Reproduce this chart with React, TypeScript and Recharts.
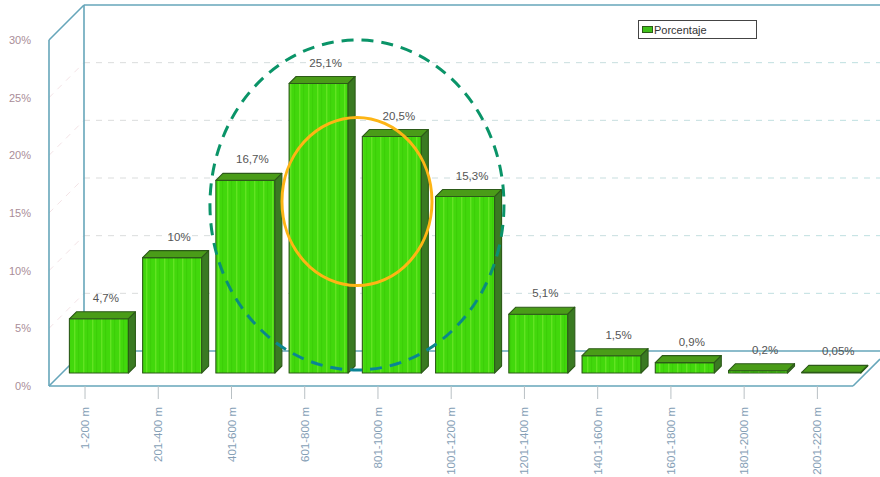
import React from "react";
import { ComposedChart, Bar, XAxis, YAxis, ReferenceLine, ReferenceDot, LabelList, Legend } from "recharts";

const categories = ["1-200 m","201-400 m","401-600 m","601-800 m","801-1000 m","1001-1200 m","1201-1400 m","1401-1600 m","1601-1800 m","1801-2000 m","2001-2200 m"];
const porcentaje = [4.7,10,16.7,25.1,20.5,15.3,5.1,1.5,0.9,0.2,0.05];
const yTicks = [0,5,10,15,20,25,30];
const gridValues = [5,10,15,20,25];
const frameValues = [0,30];
const seriesName = "Porcentaje";

const data = categories.map((c,i)=>({category:c,value:porcentaje[i]}));

const W = 880, H = 477;
const DEPTH = 7;
const FRONT_DY = 13, BACK_DY = -22;
const LEFT_FRONT = 49, LEFT_BACK = 84;
const FRAME = "#66a6ba";

const fmt = (v:number)=>`${v}`.replace(".",",");

const Bar3D = (p:any)=>{
  const {x,y,width:w,height:h} = p;
  return <g stroke="#2c5a18" strokeWidth={1.1} strokeLinejoin="round">
    <rect x={x} y={y} width={w} height={h} fill="url(#barStripes)"/>
    <polygon points={`${x},${y} ${x+DEPTH},${y-DEPTH} ${x+w+DEPTH},${y-DEPTH} ${x+w},${y}`} fill="#4a9c18"/>
    <polygon points={`${x+w},${y} ${x+w+DEPTH},${y-DEPTH} ${x+w+DEPTH},${y+h-DEPTH} ${x+w},${y+h}`} fill="#3a7a22"/>
  </g>;
};

const GridShape = (p:any)=>{
  const y = p.y1;
  return <g fill="none" strokeWidth={1} strokeDasharray="6 6">
    <line x1={LEFT_FRONT} y1={y+FRONT_DY} x2={LEFT_BACK} y2={y+BACK_DY} stroke="#f3e3e6"/>
    <line x1={LEFT_BACK} y1={y+BACK_DY} x2={W} y2={y+BACK_DY} stroke="url(#gridFade)"/>
  </g>;
};

const FrameShape = (p:any)=>{
  const y = p.y1, isFloor = p.floor;
  return <g fill="none" stroke={FRAME} strokeWidth={1.6}>
    <line x1={LEFT_FRONT} y1={y+FRONT_DY} x2={LEFT_BACK} y2={y+BACK_DY}/>
    <line x1={LEFT_BACK} y1={y+BACK_DY} x2={W} y2={y+BACK_DY}/>
    {isFloor && <>
      <line x1={LEFT_FRONT} y1={y+FRONT_DY} x2={853} y2={y+FRONT_DY}/>
      <line x1={853} y1={y+FRONT_DY} x2={W} y2={y+FRONT_DY-27}/>
    </>}
    {!isFloor && <>
      <line x1={LEFT_FRONT} y1={y+FRONT_DY} x2={LEFT_FRONT} y2={y+FRONT_DY+346}/>
      <line x1={LEFT_BACK} y1={y+BACK_DY} x2={LEFT_BACK} y2={y+BACK_DY+346}/>
    </>}
  </g>;
};

const YTick = (p:any)=>(
  <text x={31} y={p.y+FRONT_DY} dy="0.35em" textAnchor="end" fontFamily="Liberation Sans" fontSize={11} fill="#a98d98">{p.payload.value}%</text>
);

const XTick = (p:any)=>{
  const x = p.x-14;
  return <g>
    <line x1={x} y1={386} x2={x} y2={399} stroke="#b9c0c4" strokeWidth={1}/>
    <text transform={`translate(${x},407) rotate(-90)`} dy="0.35em" textAnchor="end" fontFamily="Liberation Sans" fontSize={11.5} fill="#86a0b6">{p.payload.value}</text>
  </g>;
};

const BarLabel = (p:any)=>(
  <text x={p.x+p.width/2+7} y={p.y-21} dy="0.35em" textAnchor="middle" fontFamily="Liberation Sans" fontSize={11.5} fill="#555">{fmt(p.value)}%</text>
);

const LegendBox = ()=>(
  <div style={{boxSizing:"border-box",width:119,height:19,border:"1.5px solid #444",background:"#fff",display:"flex",alignItems:"center",paddingLeft:3,fontFamily:"Liberation Sans",fontSize:11,color:"#333"}}>
    <span style={{display:"inline-block",width:11,height:7,background:"#3fc01a",border:"1px solid #2c5a18",marginRight:1,boxSizing:"border-box"}}/>
    {seriesName}
  </div>
);

// Hand-drawn rings, placed relative to the 801-1000 m band at the 15% level.
const DashedRing = (p:any)=>(
  <ellipse cx={p.cx-35} cy={p.cy+5} rx={147} ry={165} fill="none" stroke="url(#dashTeal)" strokeWidth={3} strokeDasharray="12 8"/>
);
const SolidRing = (p:any)=>(
  <ellipse cx={p.cx-35} cy={p.cy+1.5} rx={75} ry={84} fill="none" stroke="#fdb515" strokeWidth={3}/>
);

export default function App(){
  return <div style={{position:"absolute",left:0,top:0,width:W,height:H}}>
    <ComposedChart width={W} height={H} data={data} margin={{top:27,right:12,bottom:0,left:0}} barCategoryGap={0}>
      <defs>
        <pattern id="barStripes" patternUnits="userSpaceOnUse" width="9" height="10">
          <rect width="9" height="10" fill="#42d80c"/>
          <rect x="2" width="1.4" height="10" fill="#62e422"/>
          <rect x="6" width="1.2" height="10" fill="#3ccf08"/>
        </pattern>
        <linearGradient id="gridFade" gradientUnits="userSpaceOnUse" x1="84" y1="0" x2="880" y2="0">
          <stop offset="0" stopColor="#dcdcdc"/>
          <stop offset="1" stopColor="#bcdfe0"/>
        </linearGradient>
        <linearGradient id="dashTeal" gradientUnits="userSpaceOnUse" x1="0" y1="40" x2="0" y2="372">
          <stop offset="0" stopColor="#0a9468"/>
          <stop offset="0.55" stopColor="#0a9468"/>
          <stop offset="1" stopColor="#0b8496"/>
        </linearGradient>
      </defs>
      <XAxis dataKey="category" interval={0} height={104} axisLine={false} tickLine={false} tick={<XTick/>}/>
      <YAxis domain={[0,30]} ticks={yTicks} width={62.4} axisLine={false} tickLine={false} tick={<YTick/>}/>
      {gridValues.map(v=><ReferenceLine key={v} y={v} zIndex={-50} shape={<GridShape/>}/>)}
      {frameValues.map(v=><ReferenceLine key={v} y={v} zIndex={-40} shape={<FrameShape floor={v===0}/>}/>)}
      <Legend layout="vertical" align="center" verticalAlign="middle" content={<LegendBox/>} wrapperStyle={{left:638,top:20,width:119,height:19}}/>
      <Bar dataKey="value" name={seriesName} barSize={59} isAnimationActive={false} shape={<Bar3D/>}>
        <LabelList dataKey="value" content={<BarLabel/>}/>
      </Bar>
      <ReferenceDot x="801-1000 m" y={15} zIndex={1000} shape={<DashedRing/>}/>
      <ReferenceDot x="801-1000 m" y={15} zIndex={1000} shape={<SolidRing/>}/>
    </ComposedChart>
  </div>;
}
